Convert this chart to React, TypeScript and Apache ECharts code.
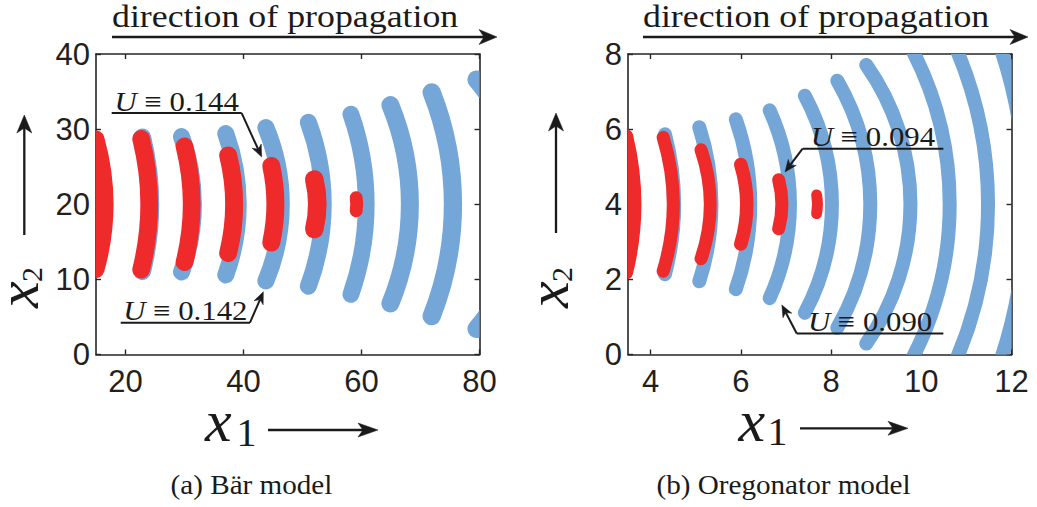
import React, { useEffect, useRef } from "react";
import * as echarts from "echarts";

// ---------------- Panel (a): Bär model ----------------
const barXTicks = [20, 40, 60, 80];
const barCenterY = 20;
// level set U ≡ 0.142 (blue bands): apex x1, half extent in x2, sag in x1, band width in x1
const barBlueApex = [24.2, 31.5, 39.1, 46.4, 53.5, 60.8, 68.2, 75.5, 87.2];
const barBlueHalf = [8.9, 9.0, 9.4, 10.2, 10.9, 12.0, 13.2, 14.9, 16.6];
const barBlueSag = [1.35, 2.0, 2.1, 2.6, 2.5, 2.6, 3.3, 3.6, 7.7];
const barBlueWidth = [3.0, 2.9, 2.9, 2.9, 2.9, 2.85, 3.05, 3.1, 3.1];
// level set U ≡ 0.144 (red bands)
const barRedApex = [16.45, 24.0, 31.2, 38.4, 45.4, 52.5, 59.2];
const barRedHalf = [8.65, 8.7, 7.7, 6.5, 5.1, 3.3, 0.87];
const barRedSag = [1.5, 1.35, 1.2, 1.0, 0.7, 0.5, 0.1];
const barRedWidth = [3.0, 3.0, 3.0, 3.05, 3.05, 3.15, 2.2];
// callouts
const barCalloutLabel = ["0.144", "0.142"];
const barCalloutTip = [[43.08, 26.29], [43.36, 8.35]];
const barCalloutElbow = [[39.69, 32.13], [41.1, 4.23]];
const barCalloutEnd = [17.66, 19.19];

// ---------------- Panel (b): Oregonator model ----------------
const oreXTicks = [4, 6, 8, 10, 12];
const oreCenterY = 4;
const oreBlueApex = [4.52, 5.35, 6.21, 7.09, 8.02, 8.87, 9.76, 10.63, 11.48, 12.32];
const oreBlueHalf = [1.86, 2.05, 2.26, 2.5, 2.89, 3.29, 3.71, 4.5, 4.5, 4.5];
const oreBlueSag = [0.2, 0.27, 0.32, 0.45, 0.6, 0.73, 0.98, 1.01, 0.84, 0.66];
const oreBlueWidth = [0.31, 0.31, 0.31, 0.31, 0.31, 0.31, 0.31, 0.31, 0.31, 0.31];
const oreRedApex = [3.63, 4.5, 5.32, 6.13, 6.91, 7.7];
const oreRedHalf = [1.81, 1.78, 1.45, 1.06, 0.65, 0.25];
const oreRedSag = [0.18, 0.22, 0.2, 0.13, 0.07, 0.02];
const oreRedWidth = [0.33, 0.29, 0.29, 0.3, 0.29, 0.24];
const oreCalloutLabel = ["0.094", "0.090"];
const oreCalloutTip = [[6.98, 4.86], [6.91, 1.32]];
const oreCalloutElbow = [[7.37, 5.48], [7.24, 0.56]];
const oreCalloutEnd = [10.49, 10.49];

const BLUE = "#74a7d8";
const RED = "#ee2a2b";
const INK = "#1a1a1a";
const LABEL = "#231f20";
const SANS = "'Liberation Sans', Arial, Helvetica, sans-serif";
const SERIF = "'Liberation Serif', 'Times New Roman', 'DejaVu Serif', serif";

function bandData(apex: number[], half: number[], sag: number[], width: number[], cy: number) {
  return apex.map((a, i) => [a, cy, half[i], sag[i], width[i]]);
}

function makeBand(color: string) {
  return (params: any, api: any) => {
    const apex = api.value(0);
    const cy = api.value(1);
    const half = api.value(2);
    const sag = api.value(3);
    const wid = api.value(4);
    const A = api.coord([apex, cy]);
    const E = api.coord([apex - sag, cy + half]);
    const lw = api.size([wid, 0])[0];
    const h = A[1] - E[1];
    const s = Math.max(A[0] - E[0], 0.3);
    const r = (h * h + s * s) / (2 * s);
    const th = Math.asin(Math.min(1, h / r));
    const cs = params.coordSys;
    return {
      type: "arc",
      shape: { cx: A[0] - r, cy: A[1], r, startAngle: -th, endAngle: th, clockwise: true },
      style: { fill: "none", stroke: color, lineWidth: lw, lineCap: "round" },
      clipPath: { type: "rect", shape: { x: cs.x, y: cs.y, width: cs.width, height: cs.height } },
    };
  };
}

const axisLineStyle = { color: "#262626", width: 1.6 };

function xAx(grid: number, min: number, max: number, ticks: number[], pos: string, label: boolean) {
  return {
    gridIndex: grid,
    type: "value",
    min,
    max,
    position: pos,
    axisLine: { show: true, onZero: false, lineStyle: axisLineStyle },
    axisTick: { show: true, inside: true, length: 5, customValues: ticks, lineStyle: { color: "#262626", width: 1.4 } },
    axisLabel: { show: label, customValues: ticks, margin: 11, fontSize: 31, color: LABEL, fontFamily: SANS },
    splitLine: { show: false },
  };
}

function yAx(grid: number, max: number, interval: number, pos: string, label: boolean) {
  return {
    gridIndex: grid,
    type: "value",
    min: 0,
    max,
    interval,
    position: pos,
    axisLine: { show: true, onZero: false, lineStyle: axisLineStyle },
    axisTick: { show: true, inside: true, length: 5, lineStyle: { color: "#262626", width: 1.4 } },
    axisLabel: { show: label, margin: 6, fontSize: 31, color: LABEL, fontFamily: SANS },
    splitLine: { show: false },
  };
}

function bandSeries(xi: number, yi: number, data: number[][], color: string, z: number) {
  return {
    type: "custom",
    xAxisIndex: xi,
    yAxisIndex: yi,
    data,
    renderItem: makeBand(color),
    encode: { x: 0, y: 1 },
    clip: true,
    silent: true,
    z,
  };
}

function buildOption() {
  return {
    animation: false,
    backgroundColor: "#ffffff",
    grid: [
      { left: 96, top: 54, width: 383.5, height: 300.5 },
      { left: 628, top: 54, width: 383.5, height: 300.5 },
    ],
    xAxis: [
      xAx(0, 15, 80, barXTicks, "bottom", true),
      xAx(0, 15, 80, barXTicks, "top", false),
      xAx(1, 3.5, 12, oreXTicks, "bottom", true),
      xAx(1, 3.5, 12, oreXTicks, "top", false),
    ],
    yAxis: [
      yAx(0, 40, 10, "left", true),
      yAx(0, 40, 10, "right", false),
      yAx(1, 8, 2, "left", true),
      yAx(1, 8, 2, "right", false),
    ],
    series: [
      bandSeries(0, 0, bandData(barBlueApex, barBlueHalf, barBlueSag, barBlueWidth, barCenterY), BLUE, 2),
      bandSeries(0, 0, bandData(barRedApex, barRedHalf, barRedSag, barRedWidth, barCenterY), RED, 3),
      bandSeries(2, 2, bandData(oreBlueApex, oreBlueHalf, oreBlueSag, oreBlueWidth, oreCenterY), BLUE, 2),
      bandSeries(2, 2, bandData(oreRedApex, oreRedHalf, oreRedSag, oreRedWidth, oreCenterY), RED, 3),
    ],
  };
}

type P = number[];

function seg(a: P, b: P, lw: number) {
  return { type: "line", shape: { x1: a[0], y1: a[1], x2: b[0], y2: b[1] }, style: { stroke: INK, lineWidth: lw }, z: 100 };
}

function arrow(from: P, tip: P, lw: number, len: number, hw: number, notch: number) {
  const dx = tip[0] - from[0];
  const dy = tip[1] - from[1];
  const L = Math.hypot(dx, dy);
  const ux = dx / L;
  const uy = dy / L;
  const nx = -uy;
  const ny = ux;
  const bx = tip[0] - ux * len;
  const by = tip[1] - uy * len;
  const mid: P = [tip[0] - ux * (len - notch), tip[1] - uy * (len - notch)];
  return [
    seg(from, mid, lw),
    {
      type: "polygon",
      shape: { points: [[tip[0], tip[1]], [bx + nx * hw, by + ny * hw], mid, [bx - nx * hw, by - ny * hw]] },
      style: { fill: INK, stroke: INK, lineWidth: 0.5 },
      z: 101,
    },
  ];
}

function tok(size: number, italic: boolean, lh: number) {
  return {
    fontSize: size,
    fontFamily: SERIF,
    fontStyle: italic ? "italic" : "normal",
    fill: INK,
    lineHeight: lh,
  };
}

function txt(text: string, x: number, y: number, size: number, opts: any = {}) {
  const lh = opts.lh || size;
  return {
    type: "text",
    x,
    y,
    z: 100,
    rotation: opts.rotation || 0,
    scaleX: opts.scaleX || 1,
    style: {
      text: "{t|" + text + "}",
      align: opts.align || "left",
      verticalAlign: "middle",
      textAlign: opts.align || "left",
      textVerticalAlign: "middle",
      rich: { t: tok(size, !!opts.italic, lh) },
    },
  };
}

function plainVar(text: string, x: number, y: number, size: number, italic: boolean, rotation: number, lh: number) {
  return {
    type: "text",
    x,
    y,
    z: 100,
    rotation,
    style: {
      text,
      font: (italic ? "italic " : "") + size + 'px "Liberation Serif", serif',
      fill: INK,
      lineHeight: lh,
      align: "left",
      verticalAlign: "middle",
    },
  };
}

function callouts(
  px: (x: number, y: number) => P,
  labels: string[],
  tips: number[][],
  elbows: number[][],
  ends: number[]
) {
  const out: any[] = [];
  labels.forEach((lab, i) => {
    const tip = px(tips[i][0], tips[i][1]);
    const elbow = px(elbows[i][0], elbows[i][1]);
    const end = px(ends[i], elbows[i][1]);
    out.push(seg(end, elbow, 2));
    out.push(...arrow(elbow, tip, 2, 12, 5, 3.5));
    const cx = (end[0] + elbow[0]) / 2;
    out.push({
      type: "text",
      x: cx,
      y: elbow[1] - 12,
      z: 100,
      scaleX: 1.1,
      style: {
        text: "{u|U}{t| ≡ " + lab + "}",
        align: "center",
        verticalAlign: "middle",
        textAlign: "center",
        textVerticalAlign: "middle",
        rich: { u: tok(28, true, 20), t: tok(28, false, 20) },
      },
    });
  });
  return out;
}

function buildGraphics(pa: (x: number, y: number) => P, pb: (x: number, y: number) => P) {
  const els: any[] = [];
  // direction of propagation
  els.push(txt("direction of propagation", 112, 16, 32, { scaleX: 1.12, lh: 26 }));
  els.push(...arrow([112, 37], [497, 37], 2.5, 18, 7.5, 5));
  els.push(txt("direction of propagation", 643, 16, 32, { scaleX: 1.12, lh: 26 }));
  els.push(...arrow([643, 37], [1028, 37], 2.5, 18, 7.5, 5));
  // x1 labels
  els.push(plainVar("x", 205, 421, 60, true, 0, 30));
  els.push(plainVar("1", 236.5, 432, 40, false, 0, 24));
  els.push(...arrow([268, 430], [378, 430], 2.3, 20, 7, 5));
  els.push(plainVar("x", 738.5, 421, 60, true, 0, 30));
  els.push(plainVar("1", 767.5, 431.5, 40, false, 0, 24));
  els.push(...arrow([800, 428.3], [908, 428.3], 2.3, 20, 7, 5));
  // x2 labels (rotated)
  els.push(plainVar("x", 17.5, 308, 60, true, Math.PI / 2, 30));
  els.push(plainVar("2", 31.6, 282, 30, false, Math.PI / 2, 20));
  els.push(...arrow([24.3, 235], [24.3, 115], 2.3, 18, 7.5, 5));
  els.push(plainVar("x", 547.5, 308, 60, true, Math.PI / 2, 30));
  els.push(plainVar("2", 561.6, 282, 30, false, Math.PI / 2, 20));
  els.push(...arrow([556, 233], [556, 113], 2.3, 18, 7.5, 5));
  // captions
  els.push(txt("(a) Bär model", 251.5, 485, 26.5, { align: "center", scaleX: 1.1 }));
  els.push(txt("(b) Oregonator model", 783.5, 485, 26.5, { align: "center", scaleX: 1.1 }));
  // callouts
  els.push(...callouts(pa, barCalloutLabel, barCalloutTip, barCalloutElbow, barCalloutEnd));
  els.push(...callouts(pb, oreCalloutLabel, oreCalloutTip, oreCalloutElbow, oreCalloutEnd));
  return { elements: els };
}

export default function App() {
  const ref = useRef<HTMLDivElement>(null);
  useEffect(() => {
    const el = ref.current;
    if (!el) return;
    const chart = echarts.init(el, null, { renderer: "svg" });
    chart.setOption(buildOption() as any);
    const pa = (x: number, y: number) => chart.convertToPixel({ xAxisIndex: 0, yAxisIndex: 0 } as any, [x, y]) as number[];
    const pb = (x: number, y: number) => chart.convertToPixel({ xAxisIndex: 2, yAxisIndex: 2 } as any, [x, y]) as number[];
    chart.setOption({ graphic: buildGraphics(pa, pb) } as any);
    return () => chart.dispose();
  }, []);
  return (
    <div
      ref={ref}
      style={{ position: "fixed", left: 0, top: 0, width: 1037, height: 507, background: "#ffffff" }}
    />
  );
}
